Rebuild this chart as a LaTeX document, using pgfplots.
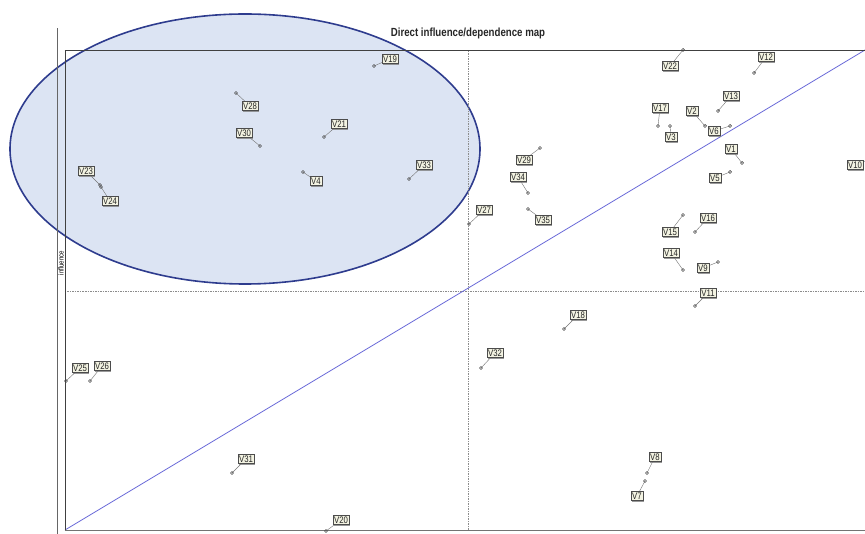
\documentclass[border=0pt]{standalone}
\usepackage{fontspec}
\setmainfont{Liberation Sans}
\newfontfamily\narrow[FakeStretch=0.82]{Liberation Sans}
\usepackage{pgfplots}
\usepackage{pgfplotstable}
\pgfplotsset{compat=1.18}
\usetikzlibrary{shadows}
\definecolor{ellfill}{HTML}{DCE4F3}
\definecolor{elldraw}{HTML}{2E3C8E}
\definecolor{diag}{HTML}{6B6BD8}
\definecolor{lblfill}{HTML}{F3F3E2}
\pgfplotstableread{
name x y dx dy
V19 309 464 16 7
V28 171 437 14 -13
V30 195 384 -16 13
V21 259 393 15 13
V4 238 358 13 -9
V33 344 351 15 14
V23 35 345 -14 14
V24 36 343 9 -14
V22 618 480 -13 -16
V12 689 457 12 16
V13 653 419 13 15
V17 593 404 2 18
V3 605 404 1 -11
V2 640 404 -13 15
V6 665 404 -16 -5
V1 677 367 -11 14
V5 665 358 -15 -6
V10 808 372 -18 -7
V29 475 382 -16 -12
V34 463 337 -10 16
V35 463 321 15 -11
V27 404 306 15 14
V16 630 298 13 14
V15 618 315 -13 -17
V14 618 260 -12 17
V9 653 268 -15 -6
V11 630 224 13 13
V18 499 201 14 14
V32 416 162 14 15
V25 1 149 14 13
V26 25 149 12 15
V31 167 57 14 14
V20 261 -1 15 11
V8 582 57 8 16
V7 580 49 -8 -15
}\pts
\begin{document}
\begin{tikzpicture}
\begin{axis}[
  x=1pt, y=1pt,
  xmin=0, xmax=800, ymin=0, ymax=480,
  clip=false,
  axis line style={draw=none},
  ticks=none,
]
% ellipse
\draw[fill=ellfill, draw=elldraw, line width=1.6pt] (axis cs:180,381) ellipse [x radius=235pt, y radius=135pt];
% crosshair
\draw[black!45, dash pattern=on 1.5pt off 1pt, line width=0.45pt] (axis cs:403,0) -- (axis cs:403,480);
\draw[black!45, dash pattern=on 1.5pt off 1pt, line width=0.45pt] (axis cs:0,239) -- (axis cs:800,239);
% diagonal
\addplot[diag, line width=0.8pt, mark=none] coordinates {(0,0) (800,480)};
% connectors
\addplot[black!55, line width=0.4pt, -, quiver={u=\thisrow{dx}, v=\thisrow{dy}}] table[x=x, y=y] {\pts};
% markers
\addplot[only marks, mark=o, mark size=1.6pt, mark options={draw=black!70, line width=0.55pt}] table[x=x, y=y] {\pts};
% labels
\addplot[draw=none, mark=none, point meta=explicit symbolic,
  nodes near coords,
  every node near coord/.style={anchor=center, font=\narrow\fontsize{9.5}{9.5}\selectfont, text=black!85,
    fill=lblfill, draw=black!70, line width=0.5pt, inner xsep=1.2pt, inner ysep=1.2pt,
    drop shadow={shadow xshift=1.3pt, shadow yshift=-1.3pt, fill=black!50, opacity=0.8}}]
  table[x expr=\thisrow{x}+\thisrow{dx}, y expr=\thisrow{y}+\thisrow{dy}, meta=name] {\pts};
% frame
\draw[black!75, line width=0.9pt] (axis cs:0,480) -- (axis cs:810,480);
\draw[black!75, line width=0.9pt] (axis cs:0,0) -- (axis cs:0,480);
\draw[black!55, line width=0.9pt] (axis cs:0,0) -- (axis cs:810,0);
\draw[black!60, line width=0.8pt] (axis cs:-8,-5) -- (axis cs:-8,502);
\node[rotate=90, font=\narrow\fontsize{7.5}{7.5}\selectfont] at (axis cs:-4,267) {influence};
\node[font=\narrow\bfseries\fontsize{11.8}{13}\selectfont, text=black!85] at (axis cs:403,497) {Direct influence/dependence map};
\coordinate (bl) at (axis cs:-65,-3);
\coordinate (tr) at (axis cs:800,530);
\end{axis}
\pgfresetboundingbox
\path[use as bounding box] (bl) rectangle (tr);
\end{tikzpicture}
\end{document}
